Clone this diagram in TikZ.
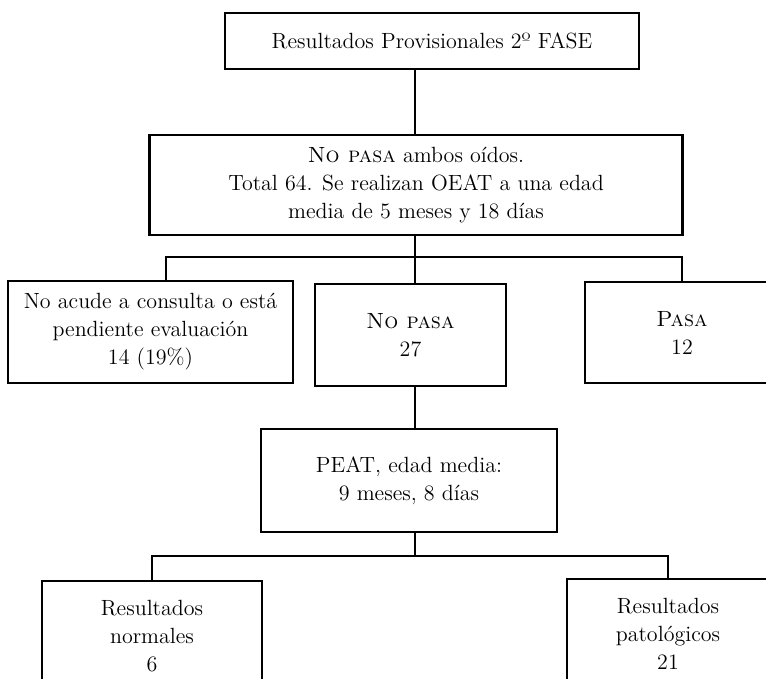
\documentclass[tikz,border=0pt]{standalone}
\usepackage{fontspec}
\usepackage{tikz}

\begin{document}
\begin{tikzpicture}[x=0.5pt, y=-0.5pt,
    every node/.style={font=\fontsize{11}{14}\selectfont},
    box/.style={draw, line width=1.4pt, align=center, inner sep=0pt},
    link/.style={line width=1.4pt}]
  \useasboundingbox (0,0) rectangle (766,679);
  \clip (0,0) rectangle (766,679);
  % Header box
  \node[box, minimum width=207pt, minimum height=28pt] (fase) at (432,41)
    {Resultados Provisionales 2º FASE};
  % Second level: OEAT
  \node[box, minimum width=266.5pt, minimum height=50pt] (oeat) at (416,185)
    {\textsc{No pasa} ambos oídos.\\ Total 64. Se realizan OEAT a una edad\\ media de 5 meses y 18 días};
  % Third level: three outcomes
  \node[box, minimum width=142.5pt, minimum height=51pt] (noacude) at (150.5,332)
    {No acude a consulta o está\\ pendiente evaluación\\ 14 (19\%)};
  \node[box, minimum width=95.5pt, minimum height=51pt] (nopasa) at (410.5,335)
    {\textsc{No pasa}\\ 27};
  \node[box, minimum width=97pt, minimum height=50.5pt] (pasa) at (682,332.5)
    {\textsc{Pasa}\\ 12};
  % Fourth level: PEAT
  \node[box, minimum width=148pt, minimum height=51.5pt] (peat) at (409,480.5)
    {PEAT, edad media:\\ 9 meses, 8 días};
  % Bottom level (runs off the page)
  \node[box, minimum width=110pt, minimum height=55pt] (normales) at (152,636)
    {Resultados\\ normales\\ 6};
  \node[box, minimum width=101pt, minimum height=55pt] (patol) at (668,634)
    {Resultados\\ patológicos\\ 21};
  % Connectors
  \coordinate (spine) at (415,0);
  \coordinate (bar1) at (415,257);
  \coordinate (bar2) at (415,556);
  \draw[link] (spine |- fase.south) -- (spine |- oeat.north);
  \draw[link] (spine |- oeat.south) -- (spine |- nopasa.north);
  \draw[link] ([xshift=7.75pt]noacude.north) |- (bar1) -| (pasa.north);
  \draw[link] (spine |- nopasa.south) -- (spine |- peat.north);
  \draw[link] (spine |- peat.south) -- (bar2);
  \draw[link] (normales.north) |- (bar2) -| (patol.north);
\end{tikzpicture}
\end{document}
